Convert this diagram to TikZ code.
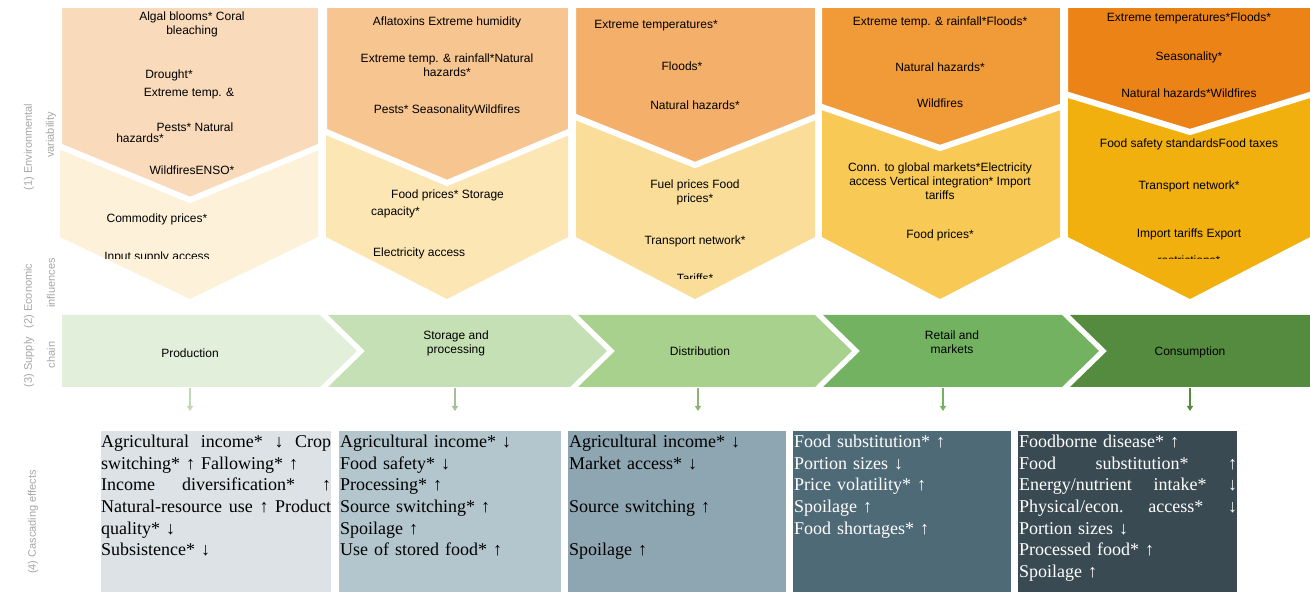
\documentclass[tikz,border=0pt]{standalone}
\usepackage{fontspec}
\setmainfont{Liberation Serif}
\setsansfont{Liberation Sans}
\usepackage{xcolor}
\usetikzlibrary{arrows.meta}

\definecolor{envA}{HTML}{F9DABB}
\definecolor{envB}{HTML}{F7C590}
\definecolor{envC}{HTML}{F4B06A}
\definecolor{envD}{HTML}{F19A38}
\definecolor{envE}{HTML}{EC8316}
\definecolor{ecoA}{HTML}{FDF1DA}
\definecolor{ecoB}{HTML}{FCE6B4}
\definecolor{ecoC}{HTML}{F9DD98}
\definecolor{ecoD}{HTML}{F8C955}
\definecolor{ecoE}{HTML}{F1B00E}
\definecolor{scA}{HTML}{E2EFDA}
\definecolor{scB}{HTML}{C5E0B4}
\definecolor{scC}{HTML}{A9D18E}
\definecolor{scD}{HTML}{72B260}
\definecolor{scE}{HTML}{548B3F}
\definecolor{fxA}{HTML}{DCE2E6}
\definecolor{fxB}{HTML}{B3C6CE}
\definecolor{fxC}{HTML}{8EA6B2}
\definecolor{fxD}{HTML}{4F6A77}
\definecolor{fxE}{HTML}{3A4A53}
\definecolor{sidegray}{HTML}{A6A6A6}

\newcommand{\jline}[2]{\leavevmode\hbox to #1{#2}}

\tikzset{
	lbl/.style={font=\sffamily\fontsize{12}{14}\selectfont, align=center, inner sep=0pt},
	side/.style={font=\sffamily\fontsize{11}{13}\selectfont, text=sidegray, rotate=90, inner sep=0pt},
	fx/.style={font=\fontsize{18}{21.6}\selectfont, text width=#1, align=left, inner sep=0pt, anchor=north west},
	gap/.style={draw=white, line width=6pt},
	down/.style={-{Triangle[width=6pt,length=5pt]}, line width=1.2pt},
}

\begin{document}
\begin{tikzpicture}[x=1pt, y=-1pt]
	\useasboundingbox (0,0) rectangle (1310,593);

	\fill[ecoA] (60,100) -- (318,100) -- (318,237) -- (190,299) -- (60,237) -- cycle;
	\fill[ecoB] (326,100) -- (568,100) -- (568,237) -- (447,299) -- (326,237) -- cycle;
	\fill[ecoC] (576,100) -- (815,100) -- (815,237) -- (695,299) -- (576,237) -- cycle;
	\fill[ecoD] (822,90) -- (1060,90) -- (1060,237) -- (940,299) -- (822,237) -- cycle;
	\fill[ecoE] (1068,80) -- (1310,80) -- (1310,237) -- (1190,299) -- (1068,237) -- cycle;

	\filldraw[fill=envA, gap] (59,5) -- (321,5) -- (321,146) -- (190,200) -- (59,146) -- cycle;
	\filldraw[fill=envB, gap] (324,5) -- (571,5) -- (571,131) -- (447,183) -- (324,131) -- cycle;
	\filldraw[fill=envC, gap] (573,5) -- (818,5) -- (818,116) -- (695,165) -- (573,116) -- cycle;
	\filldraw[fill=envD, gap] (819,5) -- (1063,5) -- (1063,106) -- (940,148) -- (819,106) -- cycle;
	\filldraw[fill=envE, gap] (1065,5) -- (1313,5) -- (1313,94) -- (1190,132) -- (1065,94) -- cycle;

	\node[lbl] (e1a) at (192,24) {Algal blooms* Coral\\bleaching};
	\node[lbl] (e1b) at (169,75) {Drought*};
	\node[lbl] (e1c) at (189,94) {Extreme temp. \&};
	\node[lbl] (e1d) at (195,127) {Pests* Natural};
	\node[lbl] (e1e) at (140,138) {hazards*};
	\node[lbl] (e1f) at (192,170) {WildfiresENSO*};
	\node[lbl] (c1a) at (157,219) {Commodity prices*};
	\begin{scope}
		\clip (62,240) rectangle (318,259);
		\node[lbl] (c1b) at (157,257) {Input supply access};
	\end{scope}

	\node[lbl] (e2a) at (447,22) {Aflatoxins Extreme humidity};
	\node[lbl] (e2b) at (447,65) {Extreme temp. \& rainfall*Natural\\hazards*};
	\node[lbl] (e2c) at (447,110) {Pests* SeasonalityWildfires};
	\node[lbl, anchor=west] (c2a) at (391,195) {Food prices* Storage};
	\node[lbl, anchor=west] (c2b) at (371,212) {capacity*};
	\node[lbl, anchor=west] (c2c) at (373,253) {Electricity access};

	\node[lbl] (e3a) at (656,26) {Extreme temperatures*};
	\node[lbl] (e3b) at (682,66) {Floods*};
	\node[lbl] (e3c) at (695,105) {Natural hazards*};
	\node[lbl] (c3a) at (695,192) {Fuel prices Food\\prices*};
	\node[lbl] (c3b) at (695,241) {Transport network*};
	\begin{scope}
		\clip (576,260) rectangle (815,279);
		\node[lbl] (c3c) at (695,278) {Tariffs*};
	\end{scope}

	\node[lbl] (e4a) at (940,22) {Extreme temp. \& rainfall*Floods*};
	\node[lbl] (e4b) at (940,67) {Natural hazards*};
	\node[lbl] (e4c) at (940,103) {Wildfires};
	\node[lbl] (c4a) at (940,181) {Conn. to global markets*Electricity\\access Vertical integration* Import\\tariffs};
	\node[lbl] (c4b) at (940,235) {Food prices*};

	\node[lbl] (e5a) at (1189,18) {Extreme temperatures*Floods*};
	\node[lbl] (e5b) at (1189,57) {Seasonality*};
	\node[lbl] (e5c) at (1189,93) {Natural hazards*Wildfires};
	\node[lbl] (c5a) at (1189,144) {Food safety standardsFood taxes};
	\node[lbl] (c5b) at (1189,186) {Transport network*};
	\node[lbl] (c5c) at (1189,234) {Import tariffs Export};
	\begin{scope}
		\clip (1068,245) rectangle (1310,259);
		\node[lbl] (c5d) at (1189,260) {restrictions*};
	\end{scope}

	\fill[scA] (62,315) -- (320,315) -- (357,351) -- (320,387) -- (62,387) -- cycle;
	\fill[scB] (328,315) -- (570,315) -- (607,351) -- (570,387) -- (328,387) -- (365,351) -- cycle;
	\fill[scC] (578,315) -- (815,315) -- (852,351) -- (815,387) -- (578,387) -- (615,351) -- cycle;
	\fill[scD] (823,315) -- (1062,315) -- (1099,351) -- (1062,387) -- (823,387) -- (860,351) -- cycle;
	\fill[scE] (1070,315) -- (1310,315) -- (1310,387) -- (1070,387) -- (1107,351) -- cycle;

	\node[lbl] (s1) at (190,353) {Production};
	\node[lbl] (s2) at (456,343) {Storage and\\processing};
	\node[lbl] (s3) at (700,351) {Distribution};
	\node[lbl] (s4) at (952,342) {Retail and\\markets};
	\node[lbl] (s5) at (1190,352) {Consumption};

	\coordinate (a1) at (190,388);
	\coordinate (b1) at (190,411);
	\coordinate (a2) at (455,388);
	\coordinate (b2) at (455,411);
	\coordinate (a3) at (698,388);
	\coordinate (b3) at (698,411);
	\coordinate (a4) at (943,388);
	\coordinate (b4) at (943,411);
	\coordinate (a5) at (1190,388);
	\coordinate (b5) at (1190,411);
	\draw[down, draw=scA!80!black!20!scB] (a1) -- (b1);
	\draw[down, draw=scB!85!black] (a2) -- (b2);
	\draw[down, draw=scC!85!black] (a3) -- (b3);
	\draw[down, draw=scD] (a4) -- (b4);
	\draw[down, draw=scE] (a5) -- (b5);

	\fill[fxA] (101,431) rectangle (331,592);
	\fill[fxB] (339,431) rectangle (561,592);
	\fill[fxC] (568,431) rectangle (786,592);
	\fill[fxD] (793,431) rectangle (1011,592);
	\fill[fxE] (1018,431) rectangle (1237,592);

	\node[fx=230pt] (f1) at (101,435) {\jline{230pt}{Agricultural\hfil income*\hfil ↓\hfil Crop}\\switching* ↑ Fallowing* ↑\\\jline{230pt}{Income\hfil diversification*\hfil ↑}\\\jline{230pt}{Natural-resource\hfil use\hfil ↑\hfil Product}\\quality* ↓\\Subsistence* ↓};
	\node[fx=220pt] (f2) at (340,435) {Agricultural income* ↓\\Food safety* ↓\\Processing* ↑\\Source switching* ↑\\Spoilage ↑\\Use of stored food* ↑};
	\node[fx=216pt] (f3) at (569,435) {Agricultural income* ↓\\Market access* ↓\\[21.6pt]Source switching ↑\\[21.6pt]Spoilage ↑};
	\node[fx=216pt, text=white] (f4) at (794,435) {Food substitution* ↑\\Portion sizes ↓\\Price volatility* ↑\\Spoilage ↑\\Food shortages* ↑};
	\node[fx=218pt, text=white] (f5) at (1019,435) {Foodborne disease* ↑\\\jline{218pt}{Food\hfil substitution*\hfil ↑}\\\jline{218pt}{Energy/nutrient\hfil intake*\hfil ↓}\\\jline{218pt}{Physical/econ.\hfil access*\hfil ↓}\\Portion sizes ↓\\Processed food* ↑\\Spoilage ↑};

	\node[side] (l1a) at (29,147) {(1) Environmental};
	\node[side] (l1b) at (51,135) {variability};
	\node[side] (l2a) at (29,296) {(2) Economic};
	\node[side] (l2b) at (51,283) {influences};
	\node[side] (l3a) at (29,362) {(3) Supply};
	\node[side] (l3b) at (51,355) {chain};
	\node[side] (l4) at (33,522) {(4) Cascading effects};
\end{tikzpicture}
\end{document}
